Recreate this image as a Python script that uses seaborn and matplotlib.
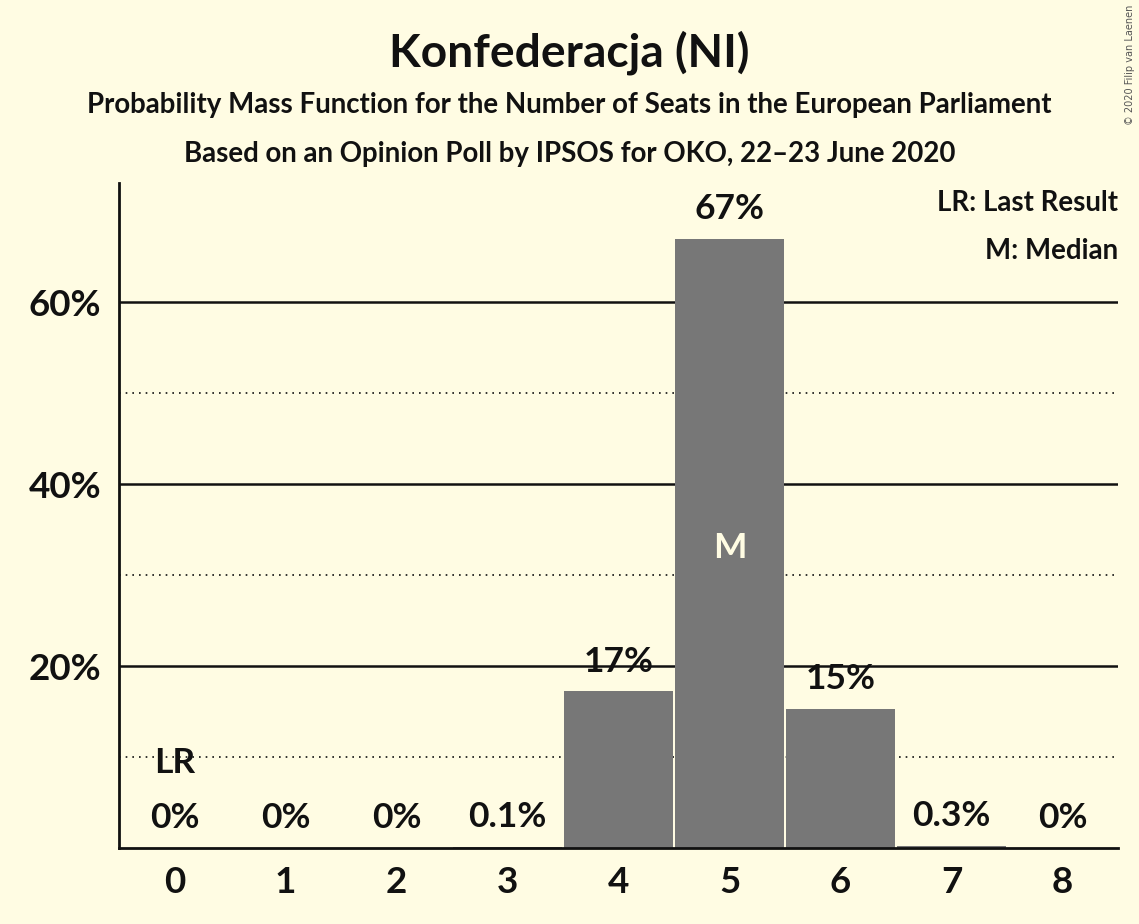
import numpy as np
import pandas as pd
import matplotlib
matplotlib.use("Agg")
import matplotlib.pyplot as plt
import seaborn as sns

# ── Data ─────────────────────────────────────────────────────────────
seats = [0, 1, 2, 3, 4, 5, 6, 7, 8]
probs = [0.0, 0.0, 0.0, 0.1, 17.2, 66.9, 15.3, 0.25, 0.0]
value_labels = ["0%", "0%", "0%", "0.1%", "17%", "67%", "15%", "0.3%", "0%"]
last_result_seat = 0
median_seat = 5
major_ticks = [20, 40, 60]
minor_ticks = [10, 30, 50]

# ── Style ────────────────────────────────────────────────────────────
BG = "#FFFCE3"
BAR = "#777777"
INK = "#111111"

sns.set_style("white")
plt.rcParams["font.family"] = ["Lato", "DejaVu Sans"]
plt.rcParams["font.weight"] = "bold"

df = pd.DataFrame({"seats": seats, "prob": probs})

fig = plt.figure(figsize=(11.39, 9.24), dpi=100)
fig.patch.set_facecolor(BG)
ax = fig.add_axes([0.1045, 0.0823, 0.8771, 0.7197])
ax.set_facecolor(BG)

sns.barplot(data=df, x="seats", y="prob", color=BAR, saturation=1,
            width=0.98, ax=ax, zorder=3, edgecolor="none")

# grid lines (drawn below bars)
for t in major_ticks:
    ax.axhline(t, color=INK, linewidth=1.8, zorder=1)
for t in minor_ticks:
    ax.axhline(t, color=INK, linewidth=1.2, linestyle=(0, (1, 3)), zorder=1)

ax.set_xlim(-0.5, 8.5)
ax.set_ylim(0, 73.1)
ax.set_yticks(major_ticks)
ax.set_yticklabels([f"{t}%" for t in major_ticks])
ax.set_xlabel("")
ax.set_ylabel("")
ax.tick_params(axis="both", length=0, labelsize=26.5, colors=INK, pad=13)
for lab in ax.get_xticklabels() + ax.get_yticklabels():
    lab.set_fontweight("bold")

for side in ["top", "right"]:
    ax.spines[side].set_visible(False)
for side in ["left", "bottom"]:
    ax.spines[side].set_color(INK)
    ax.spines[side].set_linewidth(2)
    ax.spines[side].set_zorder(4)

# value labels
for s, p, lab in zip(seats, probs, value_labels):
    ax.annotate(lab, (s, p), xytext=(0, 10), textcoords="offset points",
                ha="center", va="bottom", fontsize=25.5, fontweight="bold",
                color=INK, zorder=5)

ax.annotate("LR", (last_result_seat, 0), xytext=(0, 50), textcoords="offset points",
            ha="center", va="bottom", fontsize=25.5, fontweight="bold", color=INK, zorder=5)
ax.annotate("M", (median_seat, probs[median_seat] / 2), xytext=(0, -3),
            textcoords="offset points", ha="center", va="center",
            fontsize=25.5, fontweight="bold", color=BG, zorder=5)

# legend notes
ax.text(1.0, 0.9895, "LR: Last Result", transform=ax.transAxes, ha="right", va="top",
        fontsize=19.9, fontweight="bold", color=INK)
ax.text(1.0, 0.9175, "M: Median", transform=ax.transAxes, ha="right", va="top",
        fontsize=19.9, fontweight="bold", color=INK)

# titles
fig.text(0.5, 0.943, "Konfederacja (NI)", ha="center", va="center",
         fontsize=33.2, fontweight="bold", color=INK)
fig.text(0.5, 0.886, "Probability Mass Function for the Number of Seats in the European Parliament",
         ha="center", va="center", fontsize=19.9, fontweight="bold", color=INK)
fig.text(0.5, 0.833, "Based on an Opinion Poll by IPSOS for OKO, 22–23 June 2020",
         ha="center", va="center", fontsize=19.9, fontweight="bold", color=INK)
fig.text(0.992, 0.995, "© 2020 Filip van Laenen", ha="center", va="top", rotation=90,
         fontsize=7, fontweight="normal", color="#555555",
         family=["DejaVu Sans"])

fig.savefig("out.png", dpi=100, facecolor=BG)
